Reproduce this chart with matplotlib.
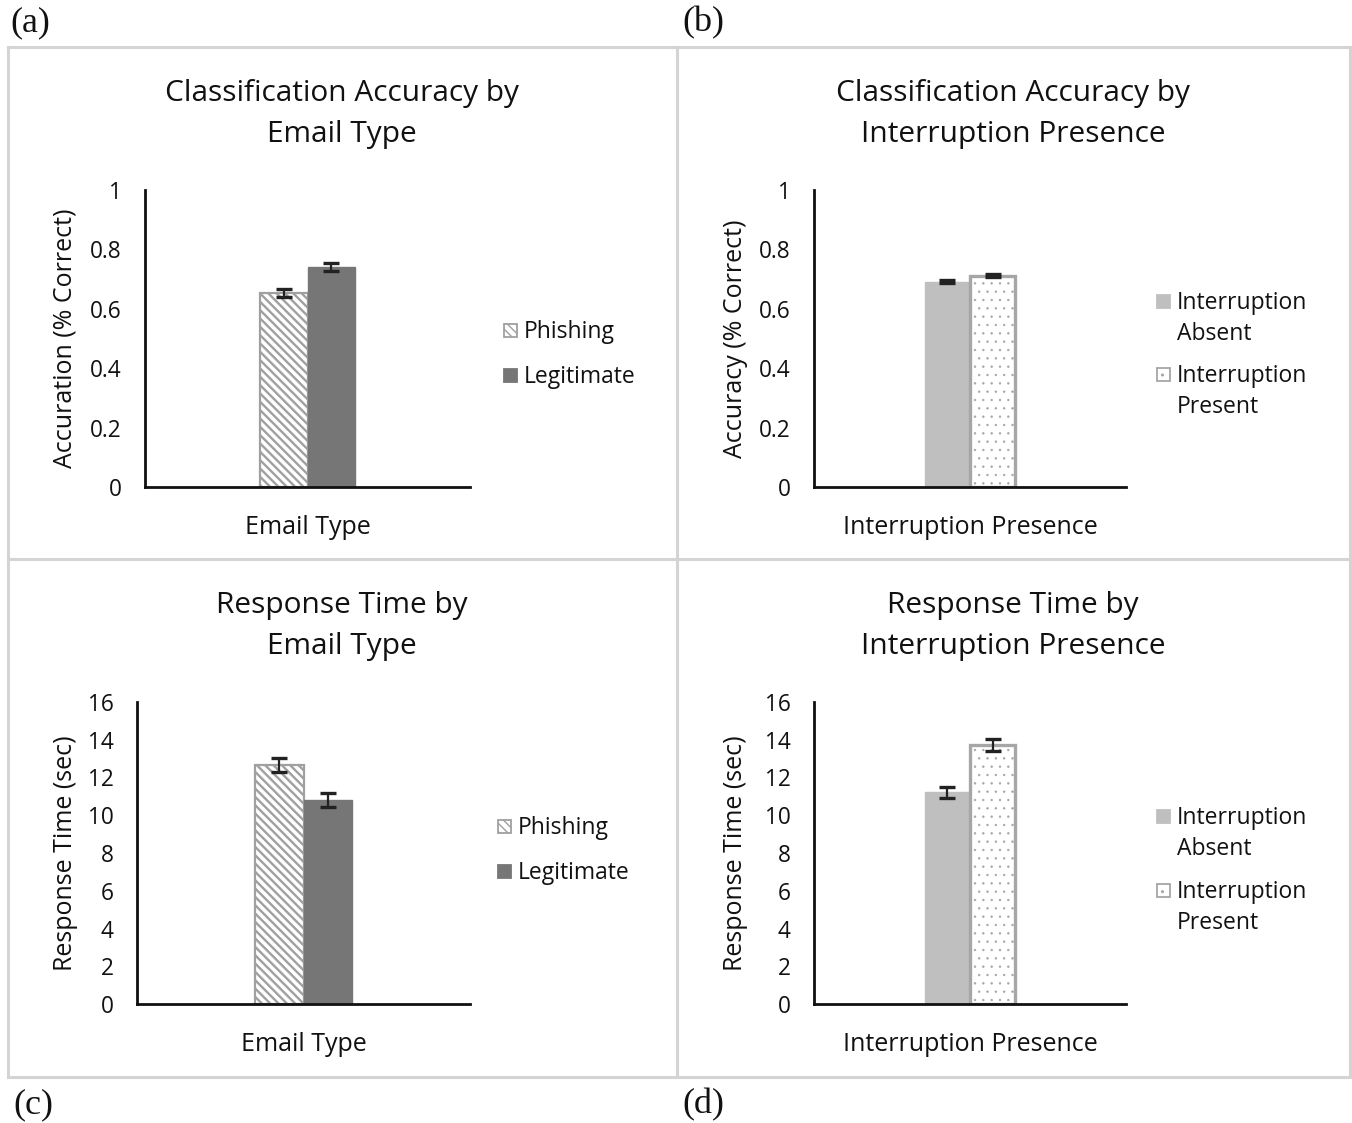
import matplotlib
matplotlib.use("Agg")
import matplotlib.pyplot as plt
from matplotlib.patches import Rectangle
from matplotlib.lines import Line2D

W, H = 1352, 1123
DPI = 100

# data
email_types = ["Phishing", "Legitimate"]
email_acc = [0.652, 0.740]
email_acc_err = [0.013, 0.014]
email_rt = [12.66, 10.82]
email_rt_err = [0.38, 0.38]

interrupt_types = ["Interruption\nAbsent", "Interruption\nPresent"]
interrupt_acc = [0.691, 0.712]
interrupt_acc_err = [0.005, 0.005]
interrupt_rt = [11.22, 13.72]
interrupt_rt_err = [0.28, 0.33]

acc_ticks = [0, 0.2, 0.4, 0.6, 0.8, 1]
acc_tick_labels = ["0", "0.2", "0.4", "0.6", "0.8", "1"]
rt_ticks = [0, 2, 4, 6, 8, 10, 12, 14, 16]

plt.rcParams["font.family"] = ["Open Sans", "DejaVu Sans"]


def pt(v):
    return v * 100 / DPI


def fx(px):
    return px / W


def fy(py):
    return 1 - py / H


EMAIL_STYLE = [
    dict(facecolor="white", edgecolor="#a0a0a0", hatch="\\\\\\\\", linewidth=pt(1.6)),
    dict(facecolor="#767676", edgecolor="#767676", linewidth=pt(1)),
]
INTER_STYLE = [
    dict(facecolor="#bfbfbf", edgecolor="#bfbfbf", linewidth=pt(1)),
    dict(facecolor="white", edgecolor="#a6a6a6", hatch="..", linewidth=pt(2.4)),
]
HATCH_LW = {"\\\\\\\\": pt(1.7), "..": pt(0.5)}


def draw_panel(fig, rect, values, errs, styles, ticks, tick_labels, ylim,
               title, xlabel, ylabel, ylabel_x, title_pos, keys, labels):
    ax = fig.add_axes(rect)
    width = 0.145
    xs = [-width / 2, width / 2]
    for x, v, e, st in zip(xs, values, errs, styles):
        with plt.rc_context({"hatch.linewidth": HATCH_LW.get(st.get("hatch"), 1.0)}):
            ax.bar(x, v, width=width, **st)
        ax.errorbar(x, v, yerr=e, color="#222222", capsize=pt(6), elinewidth=pt(1.6),
                    capthick=pt(2.4), fmt="none")
    ax.set_xlim(-0.5, 0.5)
    ax.set_ylim(*ylim)
    ax.set_yticks(ticks)
    ax.set_yticklabels(tick_labels)
    ax.set_xticks([])
    ax.tick_params(axis="y", length=0, pad=pt(17), labelsize=pt(16.3), colors="#111111")
    for s in ["top", "right"]:
        ax.spines[s].set_visible(False)
    for s in ["left", "bottom"]:
        ax.spines[s].set_linewidth(pt(2))
        ax.spines[s].set_color("#111111")
    ax.set_xlabel(xlabel, fontsize=pt(18), labelpad=pt(20), color="#111111")
    ax.set_ylabel(ylabel, fontsize=pt(18), color="#111111")
    ax.yaxis.set_label_coords(ylabel_x, 0.5)
    fig.text(fx(title_pos[0]), fy(title_pos[1]), title, ha="center", va="center",
             fontsize=pt(21.5), linespacing=1.52, color="#111111")

    # legend keys, drawn by hand so the swatch sits on the first text line
    for (kx, ky), lab, st in zip(keys, labels, styles):
        kst = dict(st)
        kst["linewidth"] = pt(1.3)
        with plt.rc_context({"hatch.linewidth": pt(1.0)}):
            fig.patches.append(Rectangle((fx(kx), fy(ky + 6.5)), fx(13), 13 / H,
                                         transform=fig.transFigure, **kst))
        fig.text(fx(kx + 20), fy(ky - 10), lab, ha="left", va="top",
                 fontsize=pt(16.5), linespacing=1.4, color="#111111",
                 transform=fig.transFigure)
    return ax


fig = plt.figure(figsize=(W / DPI, H / DPI), dpi=DPI)

# panel frame
frame = dict(color="#d4d4d4", linewidth=pt(2.2))
for x in [8, 677, 1350]:
    fig.add_artist(Line2D([fx(x), fx(x)], [fy(47), fy(1077)], **frame))
for y in [47, 559, 1077]:
    fig.add_artist(Line2D([fx(8), fx(1350)], [fy(y), fy(y)], **frame))

draw_panel(fig, [fx(145), fy(487), fx(325), 297 / H], email_acc, email_acc_err,
           EMAIL_STYLE, acc_ticks, acc_tick_labels, (0, 1),
           "Classification Accuracy by\nEmail Type", "Email Type",
           "Accuration (% Correct)", -0.207, (342, 114),
           [(504, 330), (504, 375)], email_types)

draw_panel(fig, [fx(814), fy(487), fx(312), 297 / H], interrupt_acc, interrupt_acc_err,
           INTER_STYLE, acc_ticks, acc_tick_labels, (0, 1),
           "Classification Accuracy by\nInterruption Presence", "Interruption Presence",
           "Accuracy (% Correct)", -0.212, (1013, 114),
           [(1157, 301), (1157, 374)], interrupt_types)

draw_panel(fig, [fx(137), fy(1004), fx(333), 302 / H], email_rt, email_rt_err,
           EMAIL_STYLE, rt_ticks, [str(t) for t in rt_ticks], (0, 16),
           "Response Time by\nEmail Type", "Email Type",
           "Response Time (sec)", -0.177, (342, 626),
           [(498, 826), (498, 871)], email_types)

draw_panel(fig, [fx(814), fy(1004), fx(312), 302 / H], interrupt_rt, interrupt_rt_err,
           INTER_STYLE, rt_ticks, [str(t) for t in rt_ticks], (0, 16),
           "Response Time by\nInterruption Presence", "Interruption Presence",
           "Response Time (sec)", -0.212, (1013, 626),
           [(1157, 816), (1157, 890)], interrupt_types)

for lab, x, y in [("(a)", 10, 23), ("(b)", 682, 23), ("(c)", 13, 1105), ("(d)", 682, 1105)]:
    fig.text(fx(x), fy(y), lab, ha="left", va="center", fontsize=pt(26),
             family=["Liberation Serif", "DejaVu Serif"], color="#111111")

fig.savefig("out.png", dpi=DPI, facecolor="white")
